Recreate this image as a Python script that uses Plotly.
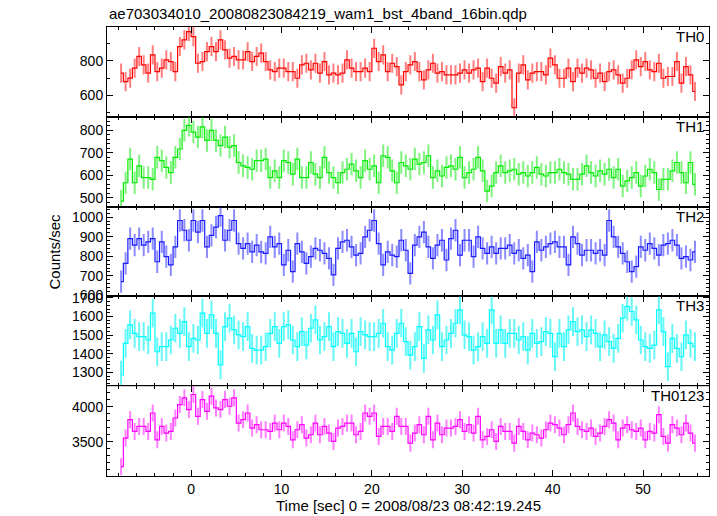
import numpy as np
import plotly.graph_objects as go

# ---- data (0.5 s bins) ----
bin_start = -8.0
bin_width = 0.5
n_bins = 128
time_sec = bin_start + bin_width * (np.arange(n_bins) + 0.5)

th0 = [728, 680, 700, 757, 824, 776, 728, 833, 737, 757, 804, 795, 737, 881, 919, 967,
       938, 785, 795, 852, 881, 852, 919, 862, 814, 824, 804, 804, 852, 795, 824, 843,
       795, 747, 737, 757, 757, 737, 737, 699, 776, 785, 747, 785, 728, 795, 718, 728,
       718, 728, 804, 757, 737, 737, 757, 737, 871, 795, 833, 737, 785, 766, 661, 737,
       776, 795, 737, 690, 747, 785, 728, 737, 718, 718, 718, 728, 747, 728, 747, 757,
       680, 757, 699, 671, 766, 728, 747, 530, 728, 776, 690, 728, 737, 737, 718, 814,
       776, 699, 699, 757, 680, 757, 728, 757, 747, 699, 728, 680, 737, 747, 718, 671,
       699, 747, 804, 766, 795, 747, 737, 785, 699, 709, 709, 795, 671, 766, 718, 623]

th1 = [485, 567, 672, 567, 642, 590, 590, 582, 680, 665, 635, 612, 680, 717, 800, 822,
       792, 770, 815, 755, 800, 755, 732, 770, 725, 732, 657, 642, 635, 627, 665, 665,
       672, 590, 620, 590, 665, 657, 605, 672, 590, 590, 657, 605, 590, 680, 612, 590,
       567, 612, 627, 650, 620, 590, 665, 627, 642, 567, 687, 680, 620, 567, 657, 642,
       627, 672, 650, 657, 687, 590, 620, 597, 635, 642, 627, 680, 590, 612, 627, 680,
       620, 530, 552, 612, 642, 612, 620, 627, 605, 612, 597, 612, 635, 605, 597, 612,
       612, 627, 612, 605, 582, 582, 605, 642, 612, 597, 620, 605, 627, 590, 627, 552,
       575, 590, 612, 552, 597, 627, 612, 537, 582, 582, 620, 657, 612, 567, 657, 560]

th2 = [671, 764, 890, 857, 890, 857, 874, 890, 772, 874, 798, 756, 848, 983, 933, 882,
       983, 924, 983, 848, 907, 949, 1008, 882, 933, 983, 865, 840, 865, 823, 857, 823,
       815, 899, 848, 865, 756, 831, 722, 865, 823, 764, 798, 840, 831, 815, 789, 705,
       840, 874, 882, 848, 806, 815, 899, 933, 983, 865, 756, 823, 806, 798, 882, 831,
       713, 857, 899, 924, 848, 789, 857, 882, 781, 890, 933, 806, 882, 882, 798, 899,
       840, 815, 848, 815, 840, 840, 857, 815, 831, 789, 806, 722, 874, 831, 848, 865,
       874, 848, 848, 756, 899, 865, 806, 831, 831, 815, 831, 806, 983, 899, 848, 815,
       772, 722, 747, 848, 831, 865, 840, 806, 857, 865, 882, 857, 789, 798, 781, 823]

th3 = [1286, 1456, 1555, 1510, 1492, 1492, 1474, 1618, 1411, 1438, 1438, 1474, 1537, 1510, 1573, 1438,
       1483, 1474, 1618, 1510, 1609, 1510, 1340, 1546, 1591, 1528, 1501, 1492, 1546, 1429, 1420, 1420,
       1438, 1510, 1546, 1456, 1546, 1555, 1474, 1438, 1519, 1447, 1537, 1582, 1474, 1492, 1546, 1438,
       1519, 1510, 1456, 1510, 1411, 1519, 1501, 1492, 1492, 1510, 1564, 1438, 1420, 1510, 1564, 1465,
       1393, 1438, 1546, 1375, 1528, 1474, 1609, 1438, 1474, 1510, 1564, 1636, 1501, 1492, 1420, 1438,
       1492, 1456, 1636, 1456, 1528, 1456, 1510, 1510, 1474, 1492, 1420, 1510, 1456, 1465, 1519, 1510,
       1384, 1510, 1438, 1528, 1573, 1519, 1528, 1492, 1528, 1510, 1438, 1501, 1465, 1429, 1483, 1591,
       1654, 1627, 1582, 1474, 1438, 1429, 1447, 1636, 1519, 1331, 1483, 1429, 1384, 1501, 1456, 1438]

th0123 = [3144, 3553, 3817, 3649, 3721, 3721, 3649, 3913, 3529, 3721, 3625, 3649, 3841, 4034, 4130, 3962,
          4178, 3865, 4106, 3937, 4154, 3986, 3962, 4106, 4010, 4130, 3769, 3817, 3913, 3697, 3745, 3673,
          3673, 3649, 3769, 3673, 3769, 3721, 3529, 3673, 3745, 3553, 3601, 3769, 3601, 3721, 3625, 3505,
          3697, 3721, 3769, 3769, 3601, 3649, 3913, 3865, 3913, 3577, 3721, 3721, 3649, 3865, 3721, 3721,
          3481, 3625, 3745, 3601, 3865, 3529, 3769, 3601, 3697, 3697, 3721, 3817, 3649, 3745, 3625, 3865,
          3529, 3577, 3673, 3505, 3721, 3649, 3649, 3481, 3721, 3649, 3529, 3625, 3601, 3553, 3673, 3769,
          3745, 3697, 3601, 3745, 3913, 3721, 3673, 3649, 3697, 3577, 3625, 3721, 3817, 3769, 3529, 3697,
          3745, 3673, 3649, 3697, 3529, 3649, 3625, 3889, 3577, 3481, 3745, 3697, 3601, 3769, 3625, 3481]

band_names = ["TH0", "TH1", "TH2", "TH3", "TH0123"]
band_values = [th0, th1, th2, th3, th0123]
band_errors = [55, 50, 57, 77, 122]

# ---- styling ----
colors = ["#ff0000", "#00ee00", "#1a1aff", "#00ffff", "#ff00ff"]
err_colors = ["rgba(255,0,0,0.5)", "rgba(0,230,0,0.5)", "rgba(26,26,255,0.5)",
              "rgba(0,240,240,0.6)", "rgba(255,0,255,0.5)"]
y_ranges = [[478, 993], [461, 860], [595, 1054], [1226, 1708], [3010, 4297]]
y_dticks = [200, 100, 100, 100, 500]
y_minor = [100, 20, 20, 20, 100]
x_range = [-9.31, 57.3]
FONT = "Liberation Sans, Arial, Helvetica, sans-serif"

fig = go.Figure()
layout = dict(
    width=717, height=516,
    margin=dict(l=107, r=8, t=27, b=40),
    paper_bgcolor="white", plot_bgcolor="white",
    showlegend=False,
    font=dict(family=FONT, size=14, color="black"),
)

annotations = []
for i in range(5):
    k = i + 1
    xa = "x" if k == 1 else f"x{k}"
    ya = "y" if k == 1 else f"y{k}"
    fig.add_trace(go.Scatter(
        x=time_sec, y=band_values[i], mode="lines",
        line=dict(color=colors[i], width=1.2, shape="hvh"),
        error_y=dict(type="constant", value=band_errors[i], color=err_colors[i],
                     thickness=2, width=0),
        xaxis=xa, yaxis=ya, hoverinfo="x+y",
    ))
    top = 1 - 0.2 * i
    bottom = top - 0.2
    axkey_x = "xaxis" if k == 1 else f"xaxis{k}"
    axkey_y = "yaxis" if k == 1 else f"yaxis{k}"
    layout[axkey_x] = dict(
        range=x_range, domain=[0, 1], anchor=ya,
        showline=True, linecolor="black", linewidth=1, mirror="ticks",
        ticks="inside", ticklen=6, tickcolor="black", tickwidth=1,
        tick0=0, dtick=10,
        minor=dict(dtick=2, ticks="inside", ticklen=3, tickcolor="black", showgrid=False),
        showgrid=False, zeroline=False,
        showticklabels=(k == 5),
        tickfont=dict(family=FONT, size=14, color="black"),
    )
    if k != 1:
        layout[axkey_x]["matches"] = "x"
    layout[axkey_y] = dict(
        range=y_ranges[i], domain=[max(bottom, 0), min(top, 1)], anchor=xa,
        showline=True, linecolor="black", linewidth=1, mirror="ticks",
        ticks="inside", ticklen=6, tickcolor="black", tickwidth=1,
        tick0=0, dtick=y_dticks[i],
        minor=dict(dtick=y_minor[i], ticks="inside", ticklen=3, tickcolor="black", showgrid=False),
        showgrid=False, zeroline=False,
        tickfont=dict(family=FONT, size=14, color="black"),
    )
    annotations.append(dict(
        text=band_names[i], xref=f"{xa} domain", yref=f"{ya} domain",
        x=1, y=1, xanchor="right", yanchor="top", xshift=-3, yshift=1,
        showarrow=False, font=dict(family=FONT, size=15, color="black"),
    ))

annotations.append(dict(
    text="ae703034010_20080823084219_wam1_bst_4band_16bin.qdp",
    xref="paper", yref="paper", x=0, y=1, xanchor="left", yanchor="bottom",
    yshift=3, showarrow=False, font=dict(family=FONT, size=15, color="black"),
))
annotations.append(dict(
    text="Time [sec] 0 = 2008/08/23 08:42:19.245",
    xref="paper", yref="paper", x=0.5, y=0, xanchor="center", yanchor="top",
    yshift=-19, showarrow=False, font=dict(family=FONT, size=15, color="black"),
))
annotations.append(dict(
    text="Counts/sec", textangle=-90,
    xref="paper", yref="paper", x=-0.088, y=0.5, xanchor="center", yanchor="middle",
    showarrow=False, font=dict(family=FONT, size=15, color="black"),
))
layout["annotations"] = annotations
fig.update_layout(**layout)
fig.write_html("out.html", config={"displayModeBar": False},
               post_script="document.body.style.margin='0';document.body.style.overflow='hidden';")
